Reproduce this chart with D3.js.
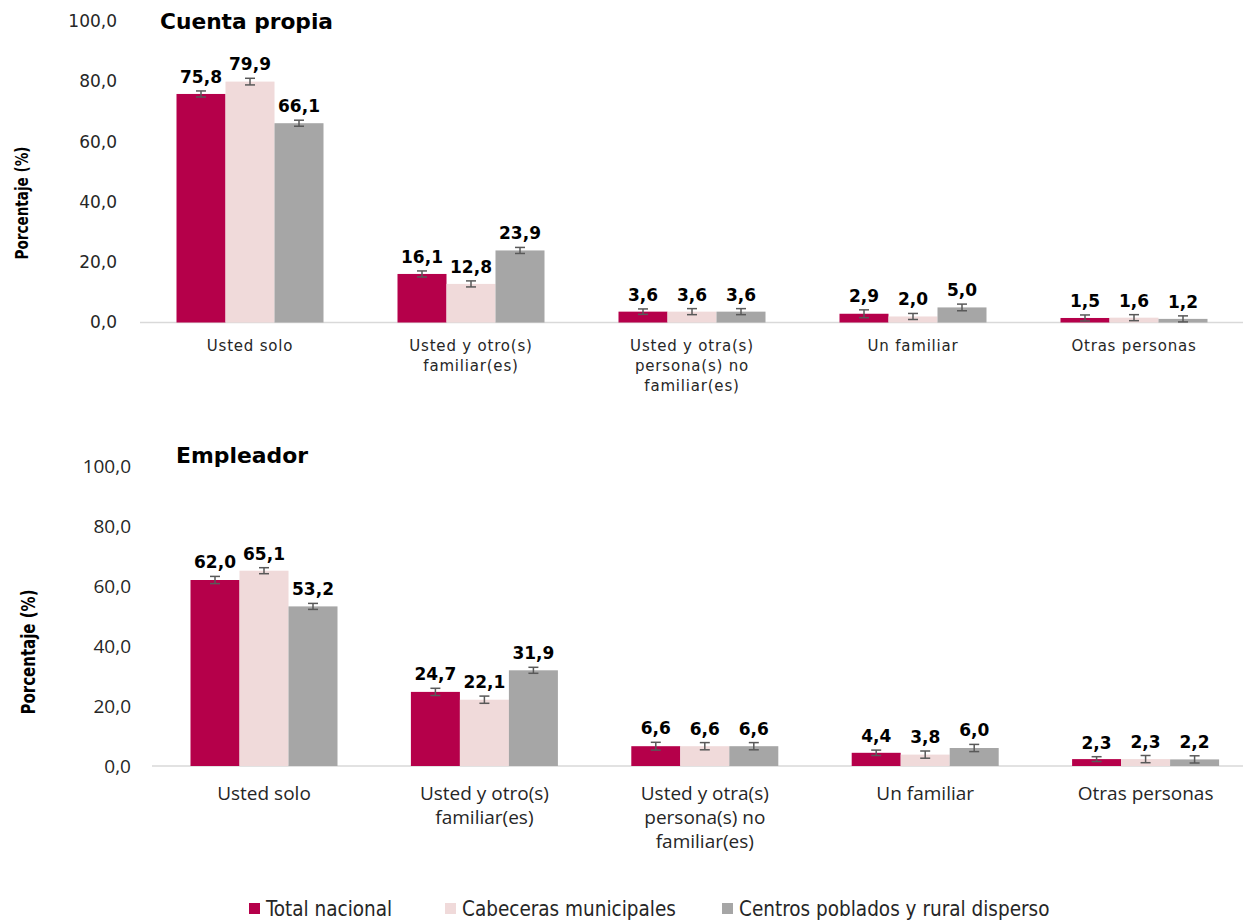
<!DOCTYPE html>
<html>
<head>
<meta charset="utf-8">
<script src="https://cdn.jsdelivr.net/npm/d3@7"></script>
<style>
  html, body { margin: 0; padding: 0; background: #fff; }
  svg { display: block; }
</style>
</head>
<body>
<svg id="chart" width="1245" height="920"></svg>
<script>
// ---------- DATA ----------
const categories = [
  "Usted solo",
  "Usted y otro(s) familiar(es)",
  "Usted y otra(s) persona(s) no familiar(es)",
  "Un familiar",
  "Otras personas"
];
const categoryLines = [
  ["Usted solo"],
  ["Usted y otro(s)", "familiar(es)"],
  ["Usted y otra(s)", "persona(s) no", "familiar(es)"],
  ["Un familiar"],
  ["Otras personas"]
];
const seriesNames = ["Total nacional", "Cabeceras municipales", "Centros poblados y rural disperso"];
const seriesColors = ["#B5004A", "#F0DADA", "#A6A6A6"];

// Cuenta propia
const cpTotal      = [75.8, 16.1, 3.6, 2.9, 1.5];
const cpCabeceras  = [79.9, 12.8, 3.6, 2.0, 1.6];
const cpCentros    = [66.1, 23.9, 3.6, 5.0, 1.2];
const cpErrTotal     = [1.0, 1.0, 0.9, 1.3, 1.0];
const cpErrCabeceras = [1.1, 1.0, 1.0, 1.0, 1.0];
const cpErrCentros   = [1.0, 1.0, 1.0, 1.1, 1.0];

// Empleador
const emTotal      = [62.0, 24.7, 6.6, 4.4, 2.3];
const emCabeceras  = [65.1, 22.1, 6.6, 3.8, 2.3];
const emCentros    = [53.2, 31.9, 6.6, 6.0, 2.2];
const emErrTotal     = [1.2, 1.2, 1.3, 0.9, 0.8];
const emErrCabeceras = [1.0, 1.2, 1.2, 1.2, 1.2];
const emErrCentros   = [1.0, 1.0, 1.2, 1.2, 1.2];

const yTicks = [0, 20, 40, 60, 80, 100];
const yAxisTitle = "Porcentaje (%)";

// ---------- LAYOUT ----------
const svg = d3.select("#chart");
const fmt = v => v.toFixed(1).replace(".", ",");

function buildRows(a, b, c, ea, eb, ec) {
  return categories.map((cat, i) => ({
    cat,
    vals: [
      { s: seriesNames[0], v: a[i], e: ea[i] },
      { s: seriesNames[1], v: b[i], e: eb[i] },
      { s: seriesNames[2], v: c[i], e: ec[i] }
    ]
  }));
}

const panels = [
  {
    title: "Cuenta propia",
    rows: buildRows(cpTotal, cpCabeceras, cpCentros, cpErrTotal, cpErrCabeceras, cpErrCentros),
    xRange: [139.5, 1244.5], yRange: [322.5, 21],
    axisStart: 140, axisEnd: 1243,
    tickX: 117, tickFont: "'DejaVu Sans', sans-serif", tickSize: 17,
    catFont: "'DejaVu Sans', sans-serif", catSize: 15, catSpacing: 0.8, catY: 351, catLine: 20,
    titleX: 160, titleY: 29, titleSize: 21, titleLen: 173,
    yTitleX: 28, yTitleY: 203, yTitleSize: 18, yTitleLen: 113
  },
  {
    title: "Empleador",
    rows: buildRows(emTotal, emCabeceras, emCentros, emErrTotal, emErrCabeceras, emErrCentros),
    xRange: [153.8, 1255.8], yRange: [766, 466],
    axisStart: 152, axisEnd: 1243,
    tickX: 131, tickFont: "'Open Sans', sans-serif", tickSize: 19,
    catFont: "'Open Sans', sans-serif", catSize: 19, catSpacing: 0, catY: 800, catLine: 24,
    titleX: 176, titleY: 463, titleSize: 22, titleLen: 132,
    yTitleX: 35, yTitleY: 652, yTitleSize: 19.5, yTitleLen: 125
  }
];

const groupW = 147;

panels.forEach(p => {
  const g = svg.append("g");
  const x0 = d3.scaleBand().domain(categories).range(p.xRange).padding(0);
  const bw = x0.bandwidth();
  const x1 = d3.scaleBand().domain(seriesNames)
    .range([(bw - groupW) / 2, (bw + groupW) / 2]).padding(0);
  const y = d3.scaleLinear().domain([0, 100]).range(p.yRange);
  const color = d3.scaleOrdinal().domain(seriesNames).range(seriesColors);

  // y axis tick labels
  const yAxis = g.append("g")
    .attr("transform", `translate(${p.tickX},0)`)
    .call(d3.axisLeft(y).tickValues(yTicks).tickSize(0).tickPadding(0).tickFormat(fmt));
  yAxis.select(".domain").remove();
  yAxis.selectAll("text")
    .attr("font-family", p.tickFont)
    .attr("font-size", p.tickSize)
    .attr("fill", "#262626");

  // baseline
  g.append("line")
    .attr("x1", p.axisStart).attr("x2", p.axisEnd)
    .attr("y1", y(0)).attr("y2", y(0))
    .attr("stroke", "#D9D9D9").attr("stroke-width", 1.5);

  // category axis
  const xAxis = g.append("g")
    .attr("transform", `translate(0,${y(0)})`)
    .call(d3.axisBottom(x0).tickSize(0).tickFormat(() => ""));
  xAxis.select(".domain").remove();
  xAxis.selectAll(".tick").each(function(d, i) {
    const t = d3.select(this).append("text")
      .attr("text-anchor", "middle")
      .attr("font-family", p.catFont)
      .attr("font-size", p.catSize)
      .attr("letter-spacing", p.catSpacing)
      .attr("fill", "#262626");
    categoryLines[i].forEach((ln, k) => {
      t.append("tspan").attr("x", 0).attr("y", p.catY - y(0) + k * p.catLine).text(ln);
    });
  });

  // bars
  const grp = g.selectAll(".grp").data(p.rows).enter().append("g")
    .attr("transform", d => `translate(${x0(d.cat)},0)`);

  grp.selectAll("rect").data(d => d.vals).enter().append("rect")
    .attr("x", d => x1(d.s))
    .attr("width", x1.bandwidth())
    .attr("y", d => y(d.v))
    .attr("height", d => y(0) - y(d.v))
    .attr("fill", d => color(d.s));

  // error bars
  const eb = grp.selectAll(".err").data(d => d.vals).enter().append("g")
    .attr("stroke", "#595959").attr("stroke-width", 1.5);
  eb.append("line")
    .attr("x1", d => x1(d.s) + x1.bandwidth() / 2).attr("x2", d => x1(d.s) + x1.bandwidth() / 2)
    .attr("y1", d => y(d.v + d.e)).attr("y2", d => y(d.v - d.e));
  eb.append("line")
    .attr("x1", d => x1(d.s) + x1.bandwidth() / 2 - 5).attr("x2", d => x1(d.s) + x1.bandwidth() / 2 + 5)
    .attr("y1", d => y(d.v + d.e)).attr("y2", d => y(d.v + d.e));
  eb.append("line")
    .attr("x1", d => x1(d.s) + x1.bandwidth() / 2 - 5).attr("x2", d => x1(d.s) + x1.bandwidth() / 2 + 5)
    .attr("y1", d => y(d.v - d.e)).attr("y2", d => y(d.v - d.e));

  // value labels
  grp.selectAll(".lbl").data(d => d.vals).enter().append("text")
    .attr("x", d => x1(d.s) + x1.bandwidth() / 2)
    .attr("y", d => y(d.v + d.e) - 8)
    .attr("text-anchor", "middle")
    .attr("font-family", "'DejaVu Sans', sans-serif")
    .attr("font-weight", "bold")
    .attr("font-size", 17)
    .attr("fill", "#000")
    .text(d => fmt(d.v));

  // title
  g.append("text")
    .attr("x", p.titleX).attr("y", p.titleY)
    .attr("font-family", "'DejaVu Sans', sans-serif")
    .attr("font-weight", "bold")
    .attr("font-size", p.titleSize)
    .attr("textLength", p.titleLen)
    .attr("lengthAdjust", "spacingAndGlyphs")
    .attr("fill", "#000")
    .text(p.title);

  // y-axis title
  g.append("text")
    .attr("transform", `translate(${p.yTitleX},${p.yTitleY}) rotate(-90)`)
    .attr("text-anchor", "middle")
    .attr("font-family", "'DejaVu Sans Condensed', 'DejaVu Sans', sans-serif")
    .attr("font-stretch", "condensed")
    .attr("font-weight", "bold")
    .attr("font-size", p.yTitleSize)
    .attr("textLength", p.yTitleLen)
    .attr("lengthAdjust", "spacingAndGlyphs")
    .attr("fill", "#000")
    .text(yAxisTitle);
});

// legend
const legendX = [249, 445, 722];
const legend = svg.append("g");
seriesNames.forEach((s, i) => {
  legend.append("rect")
    .attr("x", legendX[i]).attr("y", 903)
    .attr("width", 11).attr("height", 11)
    .attr("fill", seriesColors[i]);
  legend.append("text")
    .attr("x", legendX[i] + 17).attr("y", 916)
    .attr("font-family", "'DejaVu Sans Condensed', 'DejaVu Sans', sans-serif")
    .attr("font-stretch", "condensed")
    .attr("font-size", 20.5)
    .attr("fill", "#262626")
    .text(s);
});
</script>
</body>
</html>
